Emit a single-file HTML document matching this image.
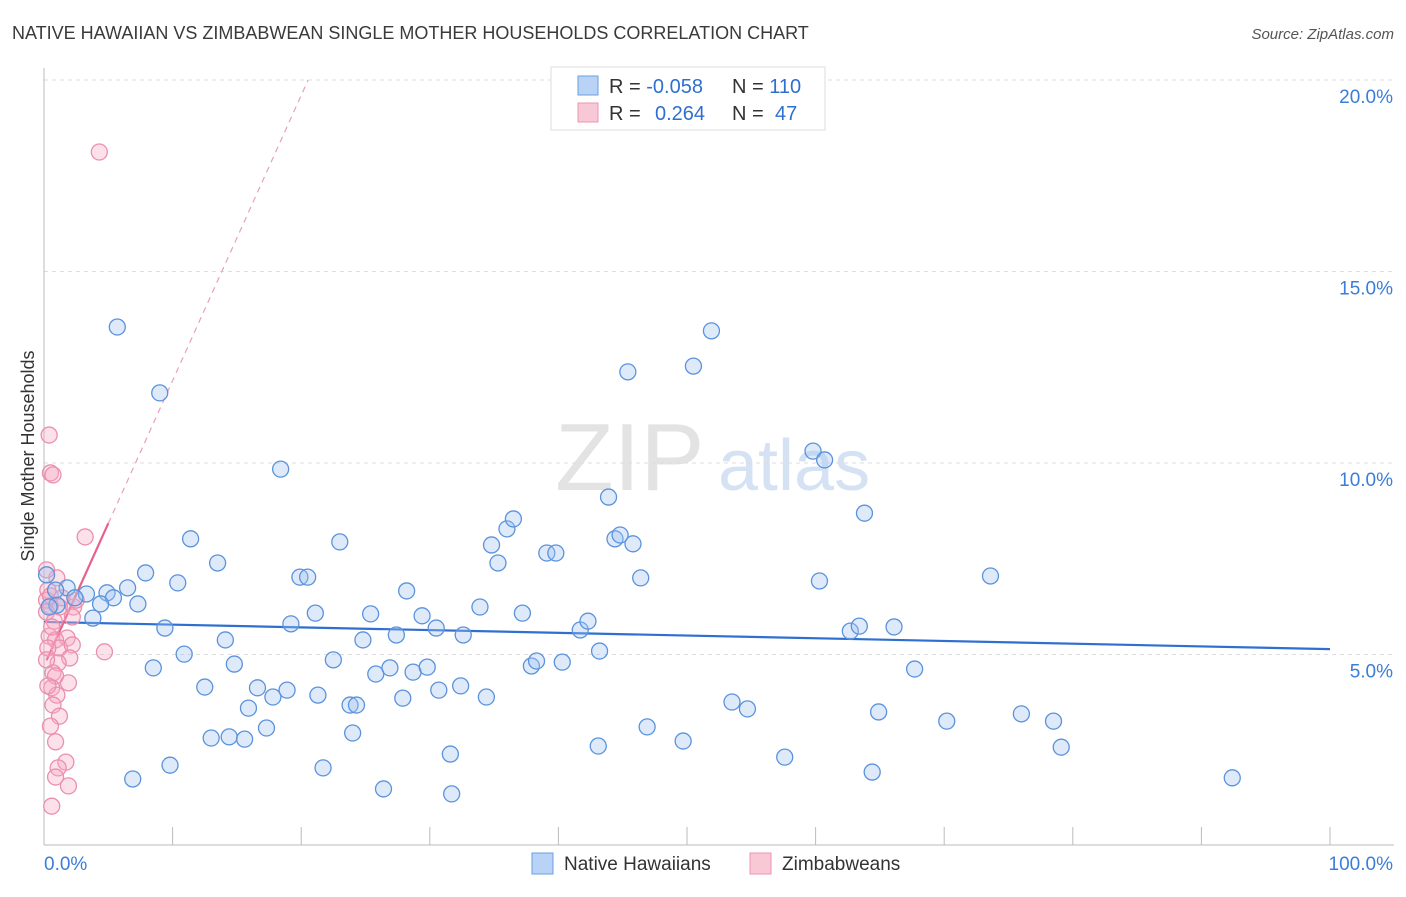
<!DOCTYPE html>
<html><head><meta charset="utf-8"><style>
body{margin:0;background:#fff;font-family:"Liberation Sans",sans-serif;}
svg text{font-family:"Liberation Sans",sans-serif;}
</style></head><body>
<svg id="chart" width="1406" height="892" viewBox="0 0 1406 892" xmlns="http://www.w3.org/2000/svg">
<text x="12" y="39" font-size="18" fill="#3a3a3a">NATIVE HAWAIIAN VS ZIMBABWEAN SINGLE MOTHER HOUSEHOLDS CORRELATION CHART</text>
<text x="1394" y="39" font-size="15" fill="#555" text-anchor="end" font-style="italic">Source: ZipAtlas.com</text>
<g>
<text x="555" y="490" font-size="96" fill="#d8d8d8" font-family="Liberation Serif" opacity="0.7">ZIP</text>
<text x="718" y="490" font-size="72" fill="#b8d0ee" opacity="0.6">atlas</text>
</g>
<g id="grid"></g><g id="axes"></g><g id="lines"></g><g id="pts"></g>
<text transform="translate(34,456) rotate(-90)" font-size="18" fill="#333" text-anchor="middle">Single Mother Households</text>
<g>
<rect x="551" y="67" width="274" height="63" fill="#fff" stroke="#ddd"/>
<rect x="578" y="76" width="20" height="19" fill="#b8d3f5" stroke="#6a9fe0"/>
<rect x="578" y="103" width="20" height="19" fill="#f9c8d7" stroke="#ec94b0"/>
<text x="609" y="93" font-size="20" fill="#333">R = <tspan fill="#2f6fd0">-0.058</tspan><tspan x="732">N = </tspan><tspan fill="#2f6fd0">110</tspan></text>
<text x="609" y="120" font-size="20" fill="#333">R = <tspan x="655" fill="#2f6fd0">0.264</tspan><tspan x="732">N = </tspan><tspan x="775" fill="#2f6fd0">47</tspan></text>
</g>
<g>
<rect x="532" y="853" width="21" height="21" fill="#b8d3f5" stroke="#6a9fe0"/>
<text x="564" y="870" font-size="19" fill="#333">Native Hawaiians</text>
<rect x="750" y="853" width="21" height="21" fill="#f9c8d7" stroke="#ec94b0"/>
<text x="782" y="870" font-size="19" fill="#333">Zimbabweans</text>
</g>
</svg>
<script>
const yTicks=[5,10,15,20];
const yTickLabels=["5.0%","10.0%","15.0%","20.0%"];
const xTicks=[0,10,20,30,40,50,60,70,80,90,100];
const blueX=[5.7,9.0,18.4,11.4,13.5,7.9,10.4,6.5,4.9,3.3,5.4,4.4,7.3,3.8,1.8,2.4,1.0,9.4,14.1,10.9,14.8,8.5,12.5,16.6,18.9,21.3,15.9,17.8,17.3,13.0,14.4,15.6,9.8,6.9,21.7,19.9,20.5,21.1,19.2,23.0,22.5,24.8,25.4,27.4,28.2,25.8,26.9,28.7,29.8,29.4,30.5,32.6,33.9,30.7,32.4,27.9,23.8,24.3,24.0,26.4,31.6,31.7,34.4,34.8,35.3,36.0,36.5,37.2,39.1,39.8,37.9,38.3,40.3,41.7,42.3,43.2,43.9,44.4,44.8,45.8,46.4,45.4,50.5,51.9,59.8,60.7,63.8,60.3,62.7,63.4,66.1,67.7,53.5,54.7,46.9,49.7,43.1,57.6,64.9,70.2,76.0,78.5,79.1,64.4,73.6,92.4,0.4,0.2,0.9];
const blueY=[13.55,11.83,9.84,8.02,7.39,7.13,6.87,6.74,6.61,6.58,6.48,6.32,6.32,5.95,6.74,6.48,6.29,5.69,5.38,5.01,4.75,4.65,4.15,4.13,4.07,3.94,3.60,3.89,3.08,2.82,2.85,2.79,2.11,1.75,2.04,7.02,7.02,6.08,5.80,7.94,4.86,5.38,6.06,5.51,6.66,4.49,4.65,4.54,4.67,6.01,5.69,5.51,6.24,4.07,4.18,3.86,3.68,3.68,2.95,1.49,2.40,1.36,3.89,7.86,7.39,8.28,8.54,6.08,7.65,7.65,4.70,4.83,4.80,5.64,5.87,5.09,9.11,8.02,8.12,7.89,7.00,12.38,12.53,13.45,10.31,10.08,8.69,6.92,5.61,5.74,5.72,4.62,3.76,3.58,3.11,2.74,2.61,2.32,3.50,3.26,3.45,3.26,2.58,1.93,7.05,1.78,6.24,7.08,6.68];
const pinkX=[4.3,0.4,0.5,0.7,3.2,1.0,0.2,0.3,0.2,0.5,0.2,1.2,2.3,2.2,0.8,0.4,1.8,0.9,1.2,2.2,4.7,0.3,2.0,1.1,0.7,0.9,1.9,0.6,1.0,0.7,1.2,0.5,0.9,1.7,1.1,0.9,1.9,0.6,0.2,0.5,1.4,2.5,0.6,0.3];
const pinkY=[18.12,10.73,9.74,9.69,8.07,7.00,7.21,6.68,6.42,6.27,6.11,6.24,6.24,5.98,5.87,5.48,5.43,5.38,5.17,5.25,5.07,5.17,4.91,4.78,4.52,4.44,4.26,4.13,3.94,3.68,3.39,3.13,2.72,2.19,2.04,1.80,1.57,1.04,4.86,6.53,6.48,6.42,5.72,4.18];
const blueTrend=[5.85,-0.0071];
const pinkTrend=[4.7,0.745];
const NS="http://www.w3.org/2000/svg";
const X0=44,X1=1330,YB=846,YPX=38.3;
function sx(v){return X0+(X1-X0)*v/100;}
function sy(v){return YB-v*YPX;}
function mk(tag,attrs,parent){const e=document.createElementNS(NS,tag);for(const k in attrs)e.setAttribute(k,attrs[k]);document.getElementById(parent).appendChild(e);return e;}
yTicks.forEach((t,i)=>{
 const l=mk('line',{x1:X0,x2:1394,y1:sy(t),y2:sy(t),stroke:'#ddd','stroke-dasharray':'4,4'},'grid');
 
 
 const tx=mk('text',{x:1393,y:sy(t)+23,'font-size':19,fill:'#3b7dd8','text-anchor':'end'},'grid');
 tx.textContent=yTickLabels[i];
 
 
});
const ax=mk('line',{x1:X0,x2:1394,y1:845,y2:845,stroke:'#bbb'},'axes');


const ay=mk('line',{x1:X0,x2:X0,y1:68,y2:845,stroke:'#bbb'},'axes');


xTicks.forEach(t=>{
 const l=mk('line',{x1:sx(t),x2:sx(t),y1:827,y2:845,stroke:'#bbb'},'axes');
 
 
});
const xl0=mk('text',{x:44,y:870,'font-size':19,fill:'#3b7dd8'},'axes');xl0.textContent='0.0%';


const xl1=mk('text',{x:1393,y:870,'font-size':19,fill:'#3b7dd8','text-anchor':'end'},'axes');xl1.textContent='100.0%';


function drawPts(xs,ys,fill,stroke,name){
 xs.forEach((x,i)=>{
  const c=mk('circle',{cx:sx(x),cy:sy(ys[i]),r:8,fill:fill,stroke:stroke,'stroke-width':1.3},'pts');
  
  
 });
}
drawPts(pinkX,pinkY,'rgba(246,170,196,0.35)','#eb8fae','zimbabwean-point');
drawPts(blueX,blueY,'rgba(160,196,240,0.35)','#5a93dc','native-hawaiian-point');
const bl=mk('line',{x1:sx(0),x2:sx(100),y1:sy(blueTrend[0]),y2:sy(blueTrend[0]+blueTrend[1]*100),stroke:'#2f6fd0','stroke-width':2.2},'lines');


const pxEnd=(20-pinkTrend[0])/pinkTrend[1];
const pd=mk('line',{x1:sx(5.0),x2:sx(pxEnd),y1:sy(pinkTrend[0]+pinkTrend[1]*5.0),y2:sy(20),stroke:'#e9a0b8','stroke-width':1.2,'stroke-dasharray':'6,5'},'lines');


const ps=mk('line',{x1:sx(0.2),x2:sx(5.0),y1:sy(pinkTrend[0]+pinkTrend[1]*0.2),y2:sy(pinkTrend[0]+pinkTrend[1]*5.0),stroke:'#e8608c','stroke-width':2.2},'lines');


</script>
</body></html>
